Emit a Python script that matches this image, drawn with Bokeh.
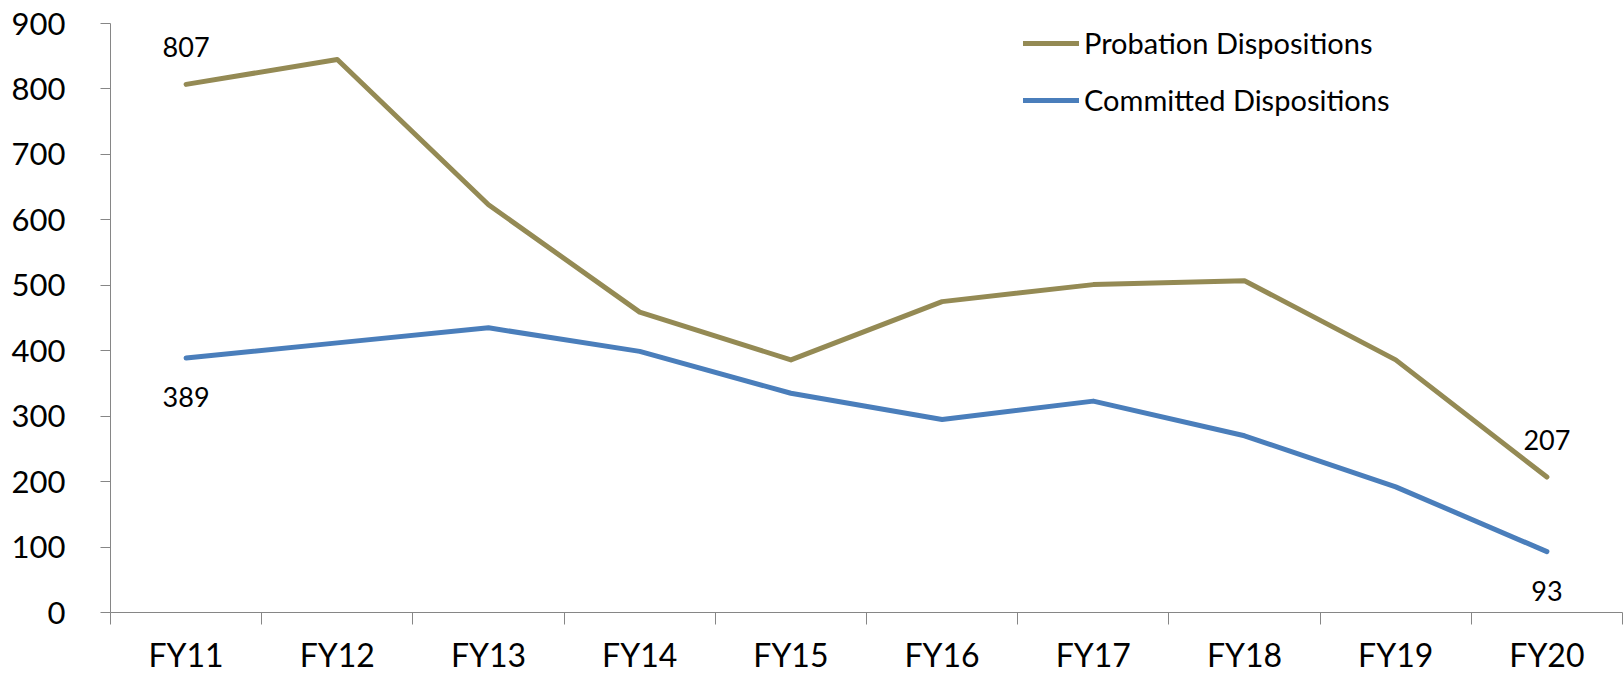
from bokeh.plotting import figure
from bokeh.models import (Range1d, FixedTicker, Legend, LegendItem, ColumnDataSource)
from bokeh.core.properties import value
from bokeh.embed import file_html
from bokeh.resources import INLINE

categories = ["FY11", "FY12", "FY13", "FY14", "FY15", "FY16", "FY17", "FY18", "FY19", "FY20"]
probation = [807, 845, 623, 459, 386, 475, 501, 507, 386, 207]
committed = [389, 412, 435, 399, 335, 295, 323, 270, 192, 93]
y_ticks = [0, 100, 200, 300, 400, 500, 600, 700, 800, 900]

GOLD = "#948A54"
BLUE = "#4A7EBB"
AXIS = "#868686"
FONT = "Lato"

xs = [i + 0.5 for i in range(len(categories))]

p = figure(width=1623, height=676, output_backend="svg", toolbar_location=None, tools="",
           x_range=Range1d(0, len(categories)), y_range=Range1d(0, 900))
p.min_border_left = 110
p.min_border_right = 1
p.min_border_top = 23
p.min_border_bottom = 40
p.outline_line_color = None
p.xgrid.visible = False
p.ygrid.visible = False
p.background_fill_color = "white"
p.border_fill_color = "white"

# y axis
p.yaxis.ticker = FixedTicker(ticks=y_ticks)
p.yaxis.axis_line_color = AXIS
p.yaxis.major_tick_line_color = AXIS
p.yaxis.major_tick_out = 10
p.yaxis.major_tick_in = 0
p.yaxis.minor_tick_line_color = None
p.yaxis.major_label_text_font = FONT
p.yaxis.major_label_text_font_size = "31px"
p.yaxis.major_label_text_color = "black"
p.yaxis.major_label_standoff = 35

# x axis
p.xaxis.ticker = FixedTicker(ticks=xs, minor_ticks=list(range(len(categories) + 1)))
p.xaxis.major_label_overrides = {x: c for x, c in zip(xs, categories)}
p.xaxis.axis_line_color = AXIS
p.xaxis.major_tick_line_color = None
p.xaxis.major_tick_out = 0
p.xaxis.major_tick_in = 0
p.xaxis.minor_tick_line_color = AXIS
p.xaxis.minor_tick_out = 12
p.xaxis.minor_tick_in = 0
p.xaxis.major_label_text_font = FONT
p.xaxis.major_label_text_font_size = "32px"
p.xaxis.major_label_text_color = "black"
p.xaxis.major_label_standoff = 10

r1 = p.line(xs, probation, line_color=GOLD, line_width=5, line_cap="round", line_join="round")
r2 = p.line(xs, committed, line_color=BLUE, line_width=5, line_cap="round", line_join="round")

# data labels (first and last points)
above = ColumnDataSource(dict(x=[xs[0], xs[-1]], y=[probation[0], probation[-1]],
                              t=[str(probation[0]), str(probation[-1])]))
below = ColumnDataSource(dict(x=[xs[0], xs[-1]], y=[committed[0], committed[-1]],
                              t=[str(committed[0]), str(committed[-1])]))
p.text(x="x", y="y", text="t", source=above, text_align="center", text_baseline="alphabetic",
       y_offset=-37, text_font=value(FONT), text_font_size="27px", text_color="black")
p.text(x="x", y="y", text="t", source=below, text_align="center", text_baseline="alphabetic",
       y_offset=39, text_font=value(FONT), text_font_size="27px", text_color="black")

legend = Legend(items=[LegendItem(label="Probation Dispositions", renderers=[r1]),
                       LegendItem(label="Committed Dispositions", renderers=[r2])],
                location=(913, 495), orientation="vertical")
legend.label_text_font = FONT
legend.label_text_font_size = "29px"
legend.label_text_color = "black"
legend.glyph_width = 56
legend.glyph_height = 30
legend.label_height = 30
legend.label_standoff = 5
legend.spacing = 22
legend.padding = 0
legend.margin = 0
legend.border_line_color = None
legend.background_fill_alpha = 0
p.add_layout(legend, "center")

open("out.html", "w").write(file_html(p, INLINE))
